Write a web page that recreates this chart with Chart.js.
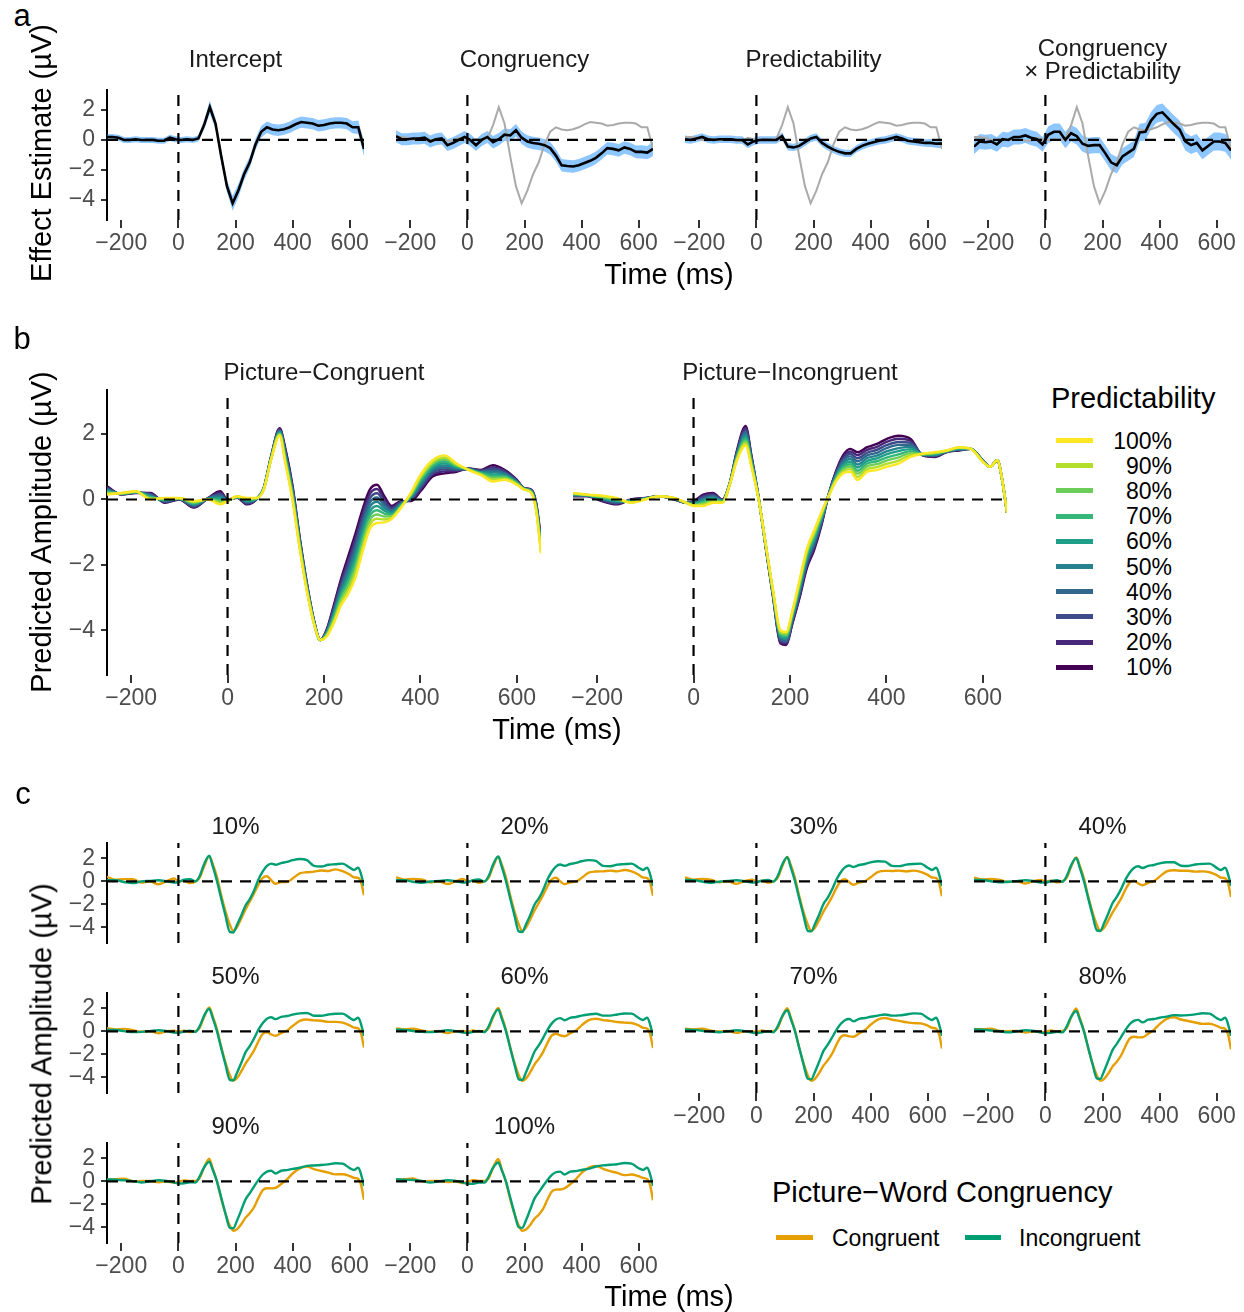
<!DOCTYPE html>
<html>
<head>
<meta charset="utf-8">
<script src="https://cdn.jsdelivr.net/npm/chart.js@4.4.1/dist/chart.umd.min.js"></script>
<style>
  html, body { margin: 0; padding: 0; background: #ffffff; }
  body { width: 1244px; height: 1312px; position: relative; overflow: hidden;
         font-family: "Liberation Sans", Arial, Helvetica, sans-serif; }
  canvas { position: absolute; }
  .t { position: absolute; white-space: nowrap; line-height: 1.15; color: #1a1a1a; }
  .sw { position: absolute; }
</style>
</head>
<body>
<script>
// ---------------- DATA ----------------
const xTicks = [-200, 0, 200, 400, 600];
const yTicks = [-4, -2, 0, 2];

// Panel a: model effect estimates (µV) with standard errors
const timeA = [-250,-230,-210,-190,-170,-150,-130,-110,-90,-70,-50,-30,-10,10,30,50,70,90,110,130,150,170,190,210,230,250,270,290,310,330,350,370,390,410,430,450,470,490,510,530,550,570,590,610,630,650];
const intercept = [.20,.20,.15,.00,.00,.05,.00,.00,.00,-.05,-.05,.15,.05,.00,.05,.00,.10,1.00,2.20,1.10,-1.10,-3.10,-4.25,-3.40,-2.30,-1.50,-.30,.55,.85,.70,.65,.72,.85,1.05,1.20,1.15,1.10,.95,1.00,1.10,1.15,1.15,1.10,.85,.85,-.60];
const interceptSE = [.20,.20,.20,.20,.20,.20,.20,.20,.20,.20,.20,.20,.20,.20,.20,.20,.20,.30,.45,.35,.35,.40,.50,.45,.40,.38,.38,.38,.38,.38,.38,.38,.38,.38,.38,.38,.38,.38,.38,.38,.38,.38,.38,.40,.45,.50];
const congruency = [.25,.05,.05,.10,.10,.15,-.10,.05,.10,-.35,-.20,.00,.20,.00,-.35,.00,.20,-.15,.05,.35,.30,.65,.15,-.10,-.20,-.25,-.35,-.55,-1.05,-1.70,-1.75,-1.78,-1.70,-1.55,-1.40,-1.20,-.90,-.55,-.60,-.70,-.50,-.60,-.80,-.80,-.85,-.60];
const congruencySE = [.40,.40,.40,.40,.40,.40,.40,.40,.40,.40,.40,.40,.40,.40,.40,.40,.40,.42,.42,.42,.42,.42,.42,.42,.42,.42,.42,.42,.42,.42,.42,.42,.42,.42,.42,.42,.42,.42,.42,.42,.42,.42,.42,.45,.45,.48];
const predictability = [.05,.00,.10,.20,.05,.00,.05,.05,.05,.00,.00,-.30,-.10,.00,.00,.00,.00,.25,-.45,-.50,-.40,-.15,.10,.20,-.20,-.45,-.65,-.80,-.90,-.90,-.60,-.40,-.25,-.15,-.05,.00,.10,.20,.10,-.05,-.10,-.15,-.20,-.20,-.25,-.25];
const predictabilitySE = [.25,.25,.25,.25,.25,.25,.25,.25,.25,.25,.25,.25,.25,.25,.25,.25,.25,.25,.25,.25,.25,.25,.25,.25,.25,.25,.25,.25,.25,.25,.25,.25,.25,.25,.25,.25,.25,.25,.25,.25,.25,.25,.25,.27,.28,.30];
const interaction = [-.45,-.10,-.15,-.10,-.30,.05,.00,.20,.20,.30,.15,.05,-.30,.35,.55,.55,.00,.45,.25,-.25,-.40,-.35,-.35,-.90,-1.50,-1.70,-1.10,-.85,-.60,.50,.55,1.30,1.75,1.85,1.45,1.05,.70,-.10,-.35,-.20,-.70,-.40,-.10,-.10,-.20,-.70];
const interactionSE = [.50,.50,.50,.50,.50,.50,.50,.50,.50,.50,.50,.50,.50,.55,.55,.55,.55,.55,.55,.55,.55,.55,.55,.55,.55,.55,.55,.55,.55,.58,.58,.58,.60,.60,.60,.60,.60,.60,.60,.60,.60,.60,.60,.60,.60,.62];

// Panels b and c: predicted amplitudes (µV) per predictability level
const timeB = [-250,-220,-190,-160,-130,-100,-70,-40,-15,0,20,40,60,75,90,108,120,135,150,165,180,192,205,220,235,250,265,280,295,310,325,340,360,380,400,425,450,475,500,525,550,575,600,615,630,640,650];
const levels = ['10%','20%','30%','40%','50%','60%','70%','80%','90%','100%'];

const congruent10  = [.40,.15,.20,.20,-.10,.00,-.25,.05,.25,.00,.05,-.15,.00,.35,1.30,2.18,1.55,.40,-1.20,-2.60,-3.75,-4.30,-4.00,-3.25,-2.45,-1.75,-1.05,-.30,.30,.45,.10,-.20,-.05,-.05,.25,.70,.80,.85,.95,.90,1.05,.90,.60,.35,.30,-.10,-1.20];
const congruent20  = [.37,.16,.21,.18,-.08,.01,-.23,.04,.21,-.01,.06,-.13,.01,.34,1.29,2.15,1.50,.35,-1.24,-2.63,-3.76,-4.30,-4.02,-3.31,-2.54,-1.88,-1.20,-.44,.17,.32,.01,-.24,-.07,-.02,.31,.76,.86,.88,.94,.88,.99,.87,.58,.34,.29,-.13,-1.25];
const congruent30  = [.34,.16,.21,.16,-.07,.01,-.21,.04,.16,-.01,.06,-.11,.01,.34,1.28,2.13,1.45,.30,-1.28,-2.66,-3.77,-4.30,-4.04,-3.37,-2.63,-2.01,-1.35,-.59,.03,.19,-.08,-.29,-.09,.01,.36,.81,.92,.91,.94,.87,.94,.83,.57,.34,.28,-.16,-1.30];
const congruent40  = [.32,.17,.22,.13,-.05,.02,-.18,.03,.12,-.02,.07,-.08,.02,.33,1.27,2.10,1.40,.25,-1.32,-2.68,-3.78,-4.30,-4.07,-3.43,-2.72,-2.13,-1.50,-.73,-.10,.06,-.17,-.33,-.12,.03,.42,.87,.98,.93,.93,.85,.88,.80,.55,.33,.27,-.18,-1.35];
const congruent50  = [.29,.17,.22,.11,-.03,.02,-.16,.03,.07,-.02,.07,-.06,.02,.33,1.26,2.08,1.35,.20,-1.36,-2.71,-3.79,-4.30,-4.09,-3.49,-2.81,-2.26,-1.65,-.88,-.23,-.07,-.26,-.38,-.14,.06,.47,.92,1.04,.96,.93,.83,.83,.77,.53,.33,.26,-.21,-1.40];
const congruent60  = [.26,.18,.23,.09,-.02,.03,-.14,.02,.03,-.03,.08,-.04,.03,.32,1.24,2.05,1.30,.15,-1.39,-2.74,-3.81,-4.30,-4.11,-3.56,-2.89,-2.39,-1.80,-1.02,-.37,-.20,-.34,-.42,-.16,.09,.53,.98,1.11,.99,.92,.82,.77,.73,.52,.32,.24,-.24,-1.45];
const congruent70  = [.23,.18,.23,.07,.00,.03,-.12,.02,-.02,-.03,.08,-.02,.03,.32,1.23,2.03,1.25,.10,-1.43,-2.77,-3.82,-4.30,-4.13,-3.62,-2.98,-2.52,-1.95,-1.17,-.50,-.33,-.43,-.47,-.18,.12,.58,1.03,1.17,1.02,.92,.80,.72,.70,.50,.32,.23,-.27,-1.50];
const congruent80  = [.21,.19,.24,.04,.02,.04,-.09,.01,-.06,-.04,.09,.01,.04,.31,1.22,2.00,1.20,.05,-1.47,-2.79,-3.83,-4.30,-4.16,-3.68,-3.07,-2.64,-2.10,-1.31,-.63,-.46,-.52,-.51,-.21,.14,.64,1.09,1.23,1.04,.91,.78,.66,.67,.48,.31,.22,-.29,-1.55];
const congruent90  = [.18,.19,.24,.02,.03,.04,-.07,.01,-.11,-.04,.09,.03,.04,.31,1.21,1.98,1.15,.00,-1.51,-2.82,-3.84,-4.30,-4.18,-3.74,-3.16,-2.77,-2.25,-1.46,-.77,-.59,-.61,-.56,-.23,.17,.69,1.14,1.29,1.07,.91,.77,.61,.63,.47,.31,.21,-.32,-1.60];
const congruent100 = [.15,.20,.25,.00,.05,.05,-.05,.00,-.15,-.05,.10,.05,.05,.30,1.20,1.95,1.10,-.05,-1.55,-2.85,-3.85,-4.30,-4.20,-3.80,-3.25,-2.90,-2.40,-1.60,-.90,-.72,-.70,-.60,-.25,.20,.75,1.20,1.35,1.10,.90,.75,.55,.60,.45,.30,.20,-.35,-1.65];

const incongruent10  = [.10,.10,-.05,-.15,.00,.05,.10,.00,-.10,-.05,.15,.20,.00,.50,1.50,2.25,1.35,.05,-1.50,-3.00,-4.40,-4.45,-3.80,-3.00,-2.10,-1.55,-.80,.15,.85,1.35,1.55,1.45,1.60,1.70,1.85,1.95,1.85,1.35,1.30,1.45,1.50,1.55,1.20,1.00,1.20,.60,-.40];
const incongruent20  = [.11,.11,-.03,-.13,-.01,.04,.10,.01,-.10,-.07,.11,.17,-.01,.49,1.47,2.18,1.31,.04,-1.49,-2.98,-4.36,-4.41,-3.76,-2.94,-2.03,-1.48,-.76,.14,.82,1.29,1.47,1.36,1.52,1.61,1.76,1.86,1.79,1.36,1.32,1.46,1.51,1.55,1.19,1.00,1.20,.60,-.40];
const incongruent30  = [.12,.11,-.01,-.11,-.02,.04,.10,.01,-.10,-.08,.07,.13,-.02,.49,1.43,2.12,1.27,.04,-1.48,-2.96,-4.31,-4.36,-3.71,-2.88,-1.97,-1.42,-.71,.14,.78,1.23,1.39,1.26,1.43,1.52,1.66,1.76,1.73,1.36,1.33,1.46,1.52,1.55,1.19,1.00,1.20,.60,-.40];
const incongruent40  = [.13,.12,.01,-.08,-.03,.03,.10,.02,-.10,-.10,.03,.10,-.03,.48,1.40,2.05,1.23,.03,-1.47,-2.93,-4.27,-4.32,-3.67,-2.82,-1.90,-1.35,-.67,.13,.75,1.17,1.32,1.17,1.35,1.43,1.57,1.67,1.67,1.37,1.35,1.47,1.53,1.55,1.18,1.00,1.20,.60,-.40];
const incongruent50  = [.14,.12,.03,-.06,-.04,.03,.10,.02,-.10,-.12,-.01,.07,-.04,.48,1.37,1.98,1.19,.03,-1.46,-2.91,-4.22,-4.27,-3.62,-2.76,-1.83,-1.28,-.62,.13,.72,1.11,1.24,1.07,1.27,1.34,1.47,1.57,1.61,1.37,1.37,1.47,1.54,1.55,1.18,1.00,1.20,.60,-.40];
const incongruent60  = [.16,.13,.04,-.04,-.06,.02,.10,.03,-.10,-.13,-.04,.03,-.06,.47,1.33,1.92,1.16,.02,-1.44,-2.89,-4.18,-4.23,-3.58,-2.69,-1.77,-1.22,-.58,.12,.68,1.04,1.16,.98,1.18,1.26,1.38,1.48,1.54,1.38,1.38,1.48,1.56,1.55,1.17,1.00,1.20,.60,-.40];
const incongruent70  = [.17,.13,.06,-.02,-.07,.02,.10,.03,-.10,-.15,-.08,.00,-.07,.47,1.30,1.85,1.12,.02,-1.43,-2.87,-4.13,-4.18,-3.53,-2.63,-1.70,-1.15,-.53,.12,.65,.98,1.08,.88,1.10,1.17,1.28,1.38,1.48,1.38,1.40,1.48,1.57,1.55,1.17,1.00,1.20,.60,-.40];
const incongruent80  = [.18,.14,.08,.01,-.08,.01,.10,.04,-.10,-.17,-.12,-.03,-.08,.46,1.27,1.78,1.08,.01,-1.42,-2.84,-4.09,-4.14,-3.49,-2.57,-1.63,-1.08,-.49,.11,.62,.92,1.01,.79,1.02,1.08,1.19,1.29,1.42,1.39,1.42,1.49,1.58,1.55,1.16,1.00,1.20,.60,-.40];
const incongruent90  = [.19,.14,.10,.03,-.09,.01,.10,.04,-.10,-.18,-.16,-.07,-.09,.46,1.23,1.72,1.04,.01,-1.41,-2.82,-4.04,-4.09,-3.44,-2.51,-1.57,-1.02,-.44,.11,.58,.86,.93,.69,.93,.99,1.09,1.19,1.36,1.39,1.43,1.49,1.59,1.55,1.16,1.00,1.20,.60,-.40];
const incongruent100 = [.20,.15,.12,.05,-.10,.00,.10,.05,-.10,-.20,-.20,-.10,-.10,.45,1.20,1.65,1.00,.00,-1.40,-2.80,-4.00,-4.05,-3.40,-2.45,-1.50,-.95,-.40,.10,.55,.80,.85,.60,.85,.90,1.00,1.10,1.30,1.40,1.45,1.50,1.60,1.55,1.15,1.00,1.20,.60,-.40];

// ---------------- STYLE / LAYOUT ----------------
const congruentSeries = [congruent10,congruent20,congruent30,congruent40,congruent50,congruent60,congruent70,congruent80,congruent90,congruent100];
const incongruentSeries = [incongruent10,incongruent20,incongruent30,incongruent40,incongruent50,incongruent60,incongruent70,incongruent80,incongruent90,incongruent100];
const viridis = ['#440154','#482878','#3E4A89','#31688E','#26828E','#1F9E89','#35B779','#6DCD59','#B4DE2C','#FDE725'];
const COL_CONG = '#E69F00', COL_INCONG = '#009E73';
const Y_MIN = -5.37, Y_MAX = 3.35, X_MIN = -250, X_MAX = 650;
const FONT = '"Liberation Sans", Arial, Helvetica, sans-serif';
const TICK_SIZE = 23, STRIP_SIZE = 24, TITLE_SIZE = 29, LEG_SIZE = 23;
Chart.defaults.font.family = FONT;

const fmt = v => (v < 0 ? '\u2212' + Math.abs(v) : String(v));
const xy = (ts, vs) => ts.map((t, i) => ({x: t, y: vs[i]}));

function zeroLines(order) {
  return [
    {data: [{x: X_MIN, y: 0}, {x: X_MAX, y: 0}], borderColor: '#000', borderWidth: 2.2, borderDash: [11, 8], pointRadius: 0, fill: false, order},
    {data: [{x: 0, y: Y_MIN}, {x: 0, y: Y_MAX}], borderColor: '#000', borderWidth: 2.2, borderDash: [11, 8], pointRadius: 0, fill: false, order}
  ];
}

function panel(cfg) {
  const padL = 30, padR = 30, padT = 25, padB = 25;
  const yW = cfg.showY ? 50 : 0, xH = cfg.showX ? 45 : 0;
  const W = padL + yW + cfg.w + padR, H = padT + cfg.h + xH + padB;
  const cv = document.createElement('canvas');
  cv.width = W; cv.height = H;
  cv.style.left = (cfg.x - padL - yW) + 'px';
  cv.style.top = (cfg.y - padT) + 'px';
  cv.style.width = W + 'px'; cv.style.height = H + 'px';
  document.body.appendChild(cv);
  return new Chart(cv.getContext('2d'), {
    type: 'line',
    data: {datasets: cfg.datasets},
    options: {
      responsive: false, animation: false, devicePixelRatio: 1,
      layout: {padding: {left: padL, right: padR, top: padT, bottom: padB}},
      plugins: {legend: {display: false}, tooltip: {enabled: false}, title: {display: false}},
      elements: {point: {radius: 0}},
      scales: {
        x: {
          type: 'linear', min: X_MIN, max: X_MAX, display: cfg.showX,
          afterFit: s => { s.height = xH; },
          afterBuildTicks: s => { s.ticks = xTicks.map(v => ({value: v})); },
          grid: {display: true, drawOnChartArea: false, drawTicks: true, tickLength: 8, color: '#333333', lineWidth: 2},
          border: {display: false},
          ticks: {autoSkip: false, maxRotation: 0, minRotation: 0, padding: 1.5, color: '#4D4D4D', font: {size: TICK_SIZE}, callback: v => fmt(v)}
        },
        y: {
          type: 'linear', min: Y_MIN, max: Y_MAX, display: cfg.showY,
          afterFit: s => { s.width = yW; },
          afterBuildTicks: s => { s.ticks = yTicks.map(v => ({value: v})); },
          grid: {display: true, drawOnChartArea: false, drawTicks: true, tickLength: 6, color: '#333333', lineWidth: 2},
          border: {display: true, color: '#000000', width: 2},
          ticks: {autoSkip: false, padding: 6, color: '#4D4D4D', font: {size: TICK_SIZE}, callback: v => fmt(v)}
        }
      }
    }
  });
}

function label(text, x, y, size, opt = {}) {
  const d = document.createElement('div');
  d.className = 't';
  d.textContent = text;
  d.style.left = x + 'px';
  d.style.top = y + 'px';
  d.style.fontSize = size + 'px';
  if (opt.color) d.style.color = opt.color;
  const tx = opt.align === 'left' ? '0' : opt.align === 'right' ? '-100%' : '-50%';
  d.style.transform = 'translate(' + tx + ',-50%)' + (opt.rot ? ' rotate(-90deg)' : '');
  document.body.appendChild(d);
}
function swatch(x, y, w, h, color) {
  const d = document.createElement('div');
  d.className = 'sw';
  Object.assign(d.style, {left: x + 'px', top: (y - h / 2) + 'px', width: w + 'px', height: h + 'px', background: color});
  document.body.appendChild(d);
}

// ---------------- PANEL a ----------------
const colA = [107, 396, 685, 974], wA = 257;
const effects = [
  {name: 'Intercept', vals: intercept, se: interceptSE},
  {name: 'Congruency', vals: congruency, se: congruencySE},
  {name: 'Predictability', vals: predictability, se: predictabilitySE},
  {name: 'Congruency × Predictability', vals: interaction, se: interactionSE}
];
effects.forEach((e, i) => {
  const ds = [{data: xy(timeA, e.vals), borderColor: '#000', borderWidth: 2.6, pointRadius: 0, fill: false, tension: 0, order: 0}];
  ds.push(...zeroLines(1));
  if (i > 0) ds.push({data: xy(timeA, intercept), borderColor: '#AAAAAA', borderWidth: 2, pointRadius: 0, fill: false, tension: 0, order: 2});
  ds.push({data: xy(timeA, e.vals.map((v, k) => v + e.se[k])), borderColor: 'rgba(0,0,0,0)', borderWidth: 0, backgroundColor: 'rgba(30,144,255,0.5)', pointRadius: 0, fill: '+1', order: 3});
  ds.push({data: xy(timeA, e.vals.map((v, k) => v - e.se[k])), borderColor: 'rgba(0,0,0,0)', borderWidth: 0, pointRadius: 0, fill: false, order: 3});
  panel({x: colA[i], y: 90, w: wA, h: 130, showY: i === 0, showX: true, datasets: ds});
});
label('a', 22, 16, 31, {color: '#000'});
label('Intercept', colA[0] + wA / 2, 59, STRIP_SIZE);
label('Congruency', colA[1] + wA / 2, 59, STRIP_SIZE);
label('Predictability', colA[2] + wA / 2, 59, STRIP_SIZE);
label('Congruency', colA[3] + wA / 2, 48, STRIP_SIZE);
label('× Predictability', colA[3] + wA / 2, 70.5, STRIP_SIZE);
label('Effect Estimate (µV)', 42, 153, TITLE_SIZE, {rot: true, color: '#000'});
label('Time (ms)', 669, 275, TITLE_SIZE, {color: '#000'});

// ---------------- PANEL b ----------------
const colB = [107, 573], wB = 434;
[congruentSeries, incongruentSeries].forEach((series, p) => {
  const ds = zeroLines(0);
  series.forEach((vals, k) => {
    ds.push({data: xy(timeB, vals), borderColor: viridis[k], borderWidth: 2.4, pointRadius: 0, fill: false,
             cubicInterpolationMode: 'monotone', order: 10 - k});
  });
  panel({x: colB[p], y: 390, w: wB, h: 285, showY: p === 0, showX: true, datasets: ds});
});
label('b', 22, 339, 31, {color: '#000'});
label('Picture\u2212Congruent', colB[0] + wB / 2, 372, STRIP_SIZE);
label('Picture\u2212Incongruent', colB[1] + wB / 2, 372, STRIP_SIZE);
label('Predicted Amplitude (µV)', 42, 532, TITLE_SIZE, {rot: true, color: '#000'});
label('Time (ms)', 557, 730, TITLE_SIZE, {color: '#000'});
label('Predictability', 1051, 399, TITLE_SIZE, {align: 'left', color: '#000'});
for (let j = 0; j < levels.length; j++) {
  const k = levels.length - 1 - j;
  const yy = 440.5 + 25.2 * j;
  swatch(1056, yy, 37, 5, viridis[k]);
  label(levels[k], 1172, yy, LEG_SIZE, {align: 'right', color: '#000'});
}

// ---------------- PANEL c ----------------
const rowC = [843, 993, 1143];
levels.forEach((lev, k) => {
  const r = Math.floor(k / 4), c = k % 4;
  const showX = (r === 1 && c >= 2) || r === 2;
  const ds = zeroLines(0);
  ds.push({data: xy(timeB, incongruentSeries[k]), borderColor: COL_INCONG, borderWidth: 2.4, pointRadius: 0, fill: false, cubicInterpolationMode: 'monotone', order: 1});
  ds.push({data: xy(timeB, congruentSeries[k]), borderColor: COL_CONG, borderWidth: 2.4, pointRadius: 0, fill: false, cubicInterpolationMode: 'monotone', order: 2});
  panel({x: colA[c], y: rowC[r], w: wA, h: 100, showY: c === 0, showX, datasets: ds});
  label(lev, colA[c] + wA / 2, rowC[r] - 17, STRIP_SIZE);
});
label('c', 23, 794, 31, {color: '#000'});
label('Predicted Amplitude (µV)', 42, 1044, TITLE_SIZE, {rot: true, color: '#000'});
label('Time (ms)', 669, 1297, TITLE_SIZE, {color: '#000'});
label('Picture\u2212Word Congruency', 772, 1193, TITLE_SIZE, {align: 'left', color: '#000'});
swatch(776, 1237.5, 37, 5, COL_CONG);
label('Congruent', 832, 1237.5, LEG_SIZE, {align: 'left', color: '#000'});
swatch(965, 1237.5, 36, 5, COL_INCONG);
label('Incongruent', 1019, 1237.5, LEG_SIZE, {align: 'left', color: '#000'});
</script>
</body>
</html>
